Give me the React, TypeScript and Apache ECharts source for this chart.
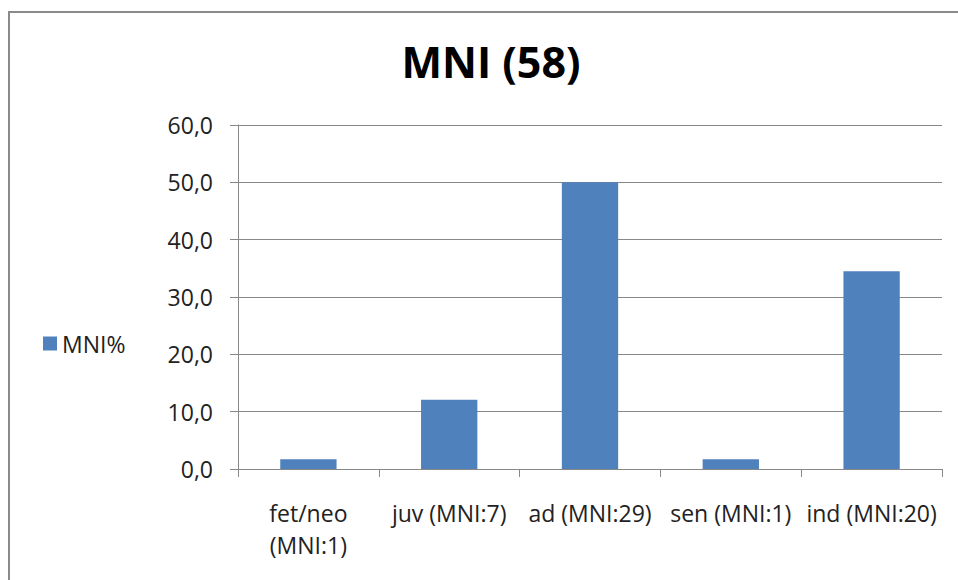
import React, { useEffect, useRef } from "react";
import * as echarts from "echarts";

const categories = ["fet/neo\n(MNI:1)", "juv (MNI:7)", "ad (MNI:29)", "sen (MNI:1)", "ind (MNI:20)"];
const mniPercent = [1.7, 12.1, 50.0, 1.7, 34.5];
const seriesName = "MNI%";
const titleText = "MNI (58)";

export default function App() {
  const ref = useRef<HTMLDivElement>(null);
  useEffect(() => {
    const chart = echarts.init(ref.current!, null, { renderer: "svg" });
    const font = "'Open Sans', 'Noto Sans', sans-serif";
    chart.setOption({
      animation: false,
      backgroundColor: "#ffffff",
      textStyle: { fontFamily: font },
      title: {
        text: titleText,
        left: 486,
        top: 35,
        textAlign: "center",
        textStyle: { fontSize: 43, fontWeight: "bold", color: "#000", fontFamily: font },
      },
      legend: {
        left: 38,
        top: 327,
        orient: "vertical",
        itemWidth: 14,
        itemHeight: 14,
        itemGap: 6,
        icon: "rect",
        textStyle: { fontSize: 23, color: "#222", fontFamily: font },
        data: [seriesName],
      },
      graphic: [
        {
          type: "rect",
          shape: { x: 9, y: 12, width: 1000, height: 700 },
          style: { fill: "none", stroke: "#8a8a8a", lineWidth: 2 },
          silent: true,
        },
      ],
      grid: { left: 238, right: 16, top: 125, bottom: 111, containLabel: false },
      xAxis: {
        type: "category",
        data: categories,
        axisLine: { lineStyle: { color: "#888", width: 1 } },
        axisTick: { show: true, length: 8, lineStyle: { color: "#888" }, alignWithLabel: false },
        axisLabel: { fontSize: 23, color: "#222", margin: 28, lineHeight: 32, interval: 0, fontFamily: font },
      },
      yAxis: {
        type: "value",
        min: 0,
        max: 60,
        interval: 10,
        axisLine: { show: true, lineStyle: { color: "#888", width: 1 } },
        axisTick: { show: true, length: 8, lineStyle: { color: "#888" } },
        splitLine: { show: true, lineStyle: { color: "#888", width: 1 } },
        axisLabel: {
          fontSize: 23,
          color: "#222",
          margin: 25,
          fontFamily: font,
          formatter: (v: number) => v.toFixed(1).replace(".", ","),
        },
      },
      series: [
        {
          name: seriesName,
          type: "bar",
          data: mniPercent,
          barWidth: "40%",
          itemStyle: { color: "#4F81BD" },
        },
      ],
    });
    return () => chart.dispose();
  }, []);
  return (
    <div
      ref={ref}
      style={{ position: "absolute", left: 0, top: 0, width: 958, height: 580 }}
    />
  );
}
